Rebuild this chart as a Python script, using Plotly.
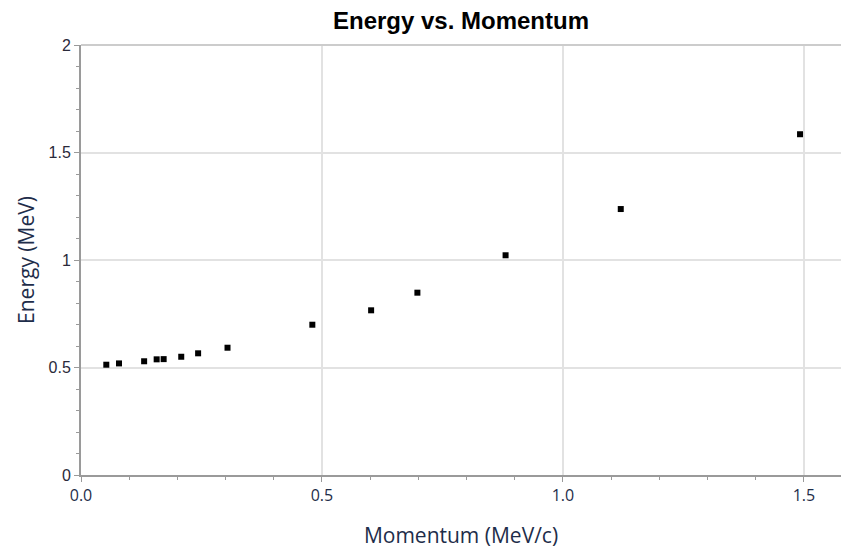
import plotly.graph_objects as go

momentum = [0.0525, 0.0788, 0.131, 0.157, 0.1715, 0.208, 0.243, 0.304, 0.480, 0.602, 0.698, 0.881, 1.120, 1.492]
energy = [0.513, 0.519, 0.529, 0.538, 0.539, 0.550, 0.566, 0.592, 0.699, 0.766, 0.848, 1.022, 1.237, 1.585]

title_text = "Energy vs. Momentum"
x_title = "Momentum (MeV/c)"
y_title = "Energy (MeV)"

fig = go.Figure()
fig.add_trace(go.Scatter(
    x=momentum, y=energy, mode="markers",
    marker=dict(symbol="square", size=6, color="black", line=dict(width=0)),
    showlegend=False,
))

fig.update_layout(
    width=841, height=549,
    margin=dict(l=81, r=0, t=45, b=74),
    paper_bgcolor="white", plot_bgcolor="white",
    title=dict(text="<b>" + title_text + "</b>", x=0.5, xanchor="center", xref="paper",
               y=0.963, yanchor="middle",
               font=dict(family="Liberation Sans, Arial", size=24, color="black")),
    xaxis=dict(
        range=[0, 1.577], dtick=0.5, tick0=0, tickformat=".1f",
        showgrid=True, gridcolor="#e2e2e2", gridwidth=1.5,
        showline=True, linecolor="#9a9a9a", linewidth=2,
        ticks="outside", ticklen=5, tickcolor="#9a9a9a", tickwidth=1,
        minor=dict(ticks="outside", ticklen=3, dtick=0.1, tickcolor="#9a9a9a", showgrid=False),
        zeroline=False,
        tickfont=dict(family="Open Sans", size=16, color="#1e2d4a"),
        title=dict(text=x_title, font=dict(family="Open Sans", size=21, color="#1e2d4a"), standoff=23),
    ),
    yaxis=dict(
        range=[0, 2], dtick=0.5, tick0=0,
        showgrid=True, gridcolor="#e2e2e2", gridwidth=1.5,
        showline=True, linecolor="#9a9a9a", linewidth=2,
        ticks="outside", ticklen=5, tickcolor="#9a9a9a", tickwidth=1,
        minor=dict(ticks="outside", ticklen=3, dtick=0.1, tickcolor="#9a9a9a", showgrid=False),
        zeroline=False,
        tickfont=dict(family="Liberation Sans, Arial", size=16, color="#2a2a3a"),
        title=dict(text=y_title, font=dict(family="Open Sans", size=21, color="#1e2d4a"), standoff=8),
    ),
    shapes=[dict(type="line", xref="paper", yref="paper", x0=0, x1=1, y0=1, y1=1,
                 line=dict(color="#cccccc", width=2))],
)

fig.write_html("out.html", config={"displayModeBar": False},
               post_script="document.body.style.margin='0px';document.body.style.overflow='hidden';")
